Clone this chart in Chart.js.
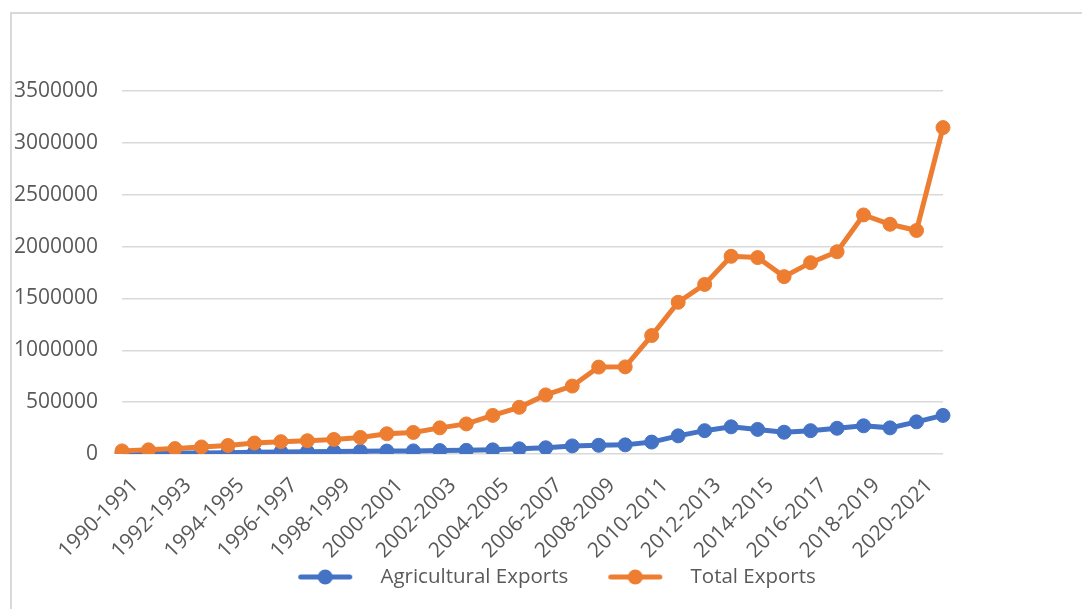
<!DOCTYPE html>
<html>
<head>
<meta charset="utf-8">
<title>Exports</title>
<script src="https://cdn.jsdelivr.net/npm/chart.js@4.4.0/dist/chart.umd.min.js"></script>
<style>
  html, body { margin: 0; padding: 0; background: #fff; overflow: hidden; }
  #frame {
    position: absolute; left: 10px; top: 12px;
    width: 1093px; height: 620px;
    border-left: 2px solid #d9d9d9; border-top: 2px solid #d9d9d9;
  }
  canvas { display: block; }
</style>
</head>
<body>
<div id="frame"><canvas id="exportsChart" width="1093" height="595"></canvas></div>
<script>
const periods = [
    '1990-1991', '1991-1992', '1992-1993', '1993-1994', '1994-1995', '1995-1996',
    '1996-1997', '1997-1998', '1998-1999', '1999-2000', '2000-2001', '2001-2002',
    '2002-2003', '2003-2004', '2004-2005', '2005-2006', '2006-2007', '2007-2008',
    '2008-2009', '2009-2010', '2010-2011', '2011-2012', '2012-2013', '2013-2014',
    '2014-2015', '2015-2016', '2016-2017', '2017-2018', '2018-2019', '2019-2020',
    '2020-2021', '2021-2022'
];

const agriculturalExports = [
    6000, 8000, 9000, 10000, 12000, 17000, 20000, 22000, 24000, 26000,
    28000, 30000, 33000, 35000, 40000, 50000, 60000, 78000, 84000, 88000,
    115000, 175000, 225000, 262000, 237000, 210000, 225000, 248000, 272000, 252000,
    310000, 372000
];

const totalExports = [
    30000, 40000, 52000, 68000, 82000, 106000, 119000, 128000, 140000, 160000,
    195000, 208000, 252000, 290000, 372000, 450000, 570000, 655000, 838000, 840000,
    1142000, 1463000, 1635000, 1906000, 1894000, 1710000, 1845000, 1950000, 2305000, 2215000,
    2155000, 3147000
];

const valueTicks = [0, 500000, 1000000, 1500000, 2000000, 2500000, 3000000, 3500000];

const textColor = '#595959';
const gridColor = '#d9d9d9';
const fontFamily = '"Open Sans", sans-serif';

// legend swatch: short line with the marker in the middle; the transparent
// margins give the spacing between and around the legend entries
function legendSwatch(color) {
    let c = document.createElement('canvas');
    c.width = 110;
    c.height = 18;
    let g = c.getContext('2d');
    g.strokeStyle = color;
    g.lineWidth = 5;
    g.lineCap = 'round';
    g.beginPath();
    g.moveTo(40.5, 9);
    g.lineTo(89.5, 9);
    g.stroke();
    g.fillStyle = color;
    g.beginPath();
    g.arc(65, 9, 7.5, 0, Math.PI * 2);
    g.fill();
    return c;
}

let ctx = document.getElementById('exportsChart').getContext('2d');
let exportsChart = new Chart(ctx, {
    type: 'line',
    data: {
        labels: periods,
        datasets: [{
            label: 'Agricultural Exports',
            data: agriculturalExports,
            borderColor: '#4472C4',
            backgroundColor: '#4472C4',
            borderWidth: 5,
            pointRadius: 7,
            pointBorderWidth: 1,
            order: 1
        }, {
            label: 'Total Exports',
            data: totalExports,
            borderColor: '#ED7D31',
            backgroundColor: '#ED7D31',
            borderWidth: 5,
            pointRadius: 7,
            pointBorderWidth: 1,
            order: 0
        }]
    },
    options: {
        responsive: false,
        animation: false,
        layout: {
            padding: { top: 77, left: 0, right: 41, bottom: 11.75 }
        },
        plugins: {
            tooltip: { enabled: false },
            legend: {
                position: 'bottom',
                labels: {
                    usePointStyle: true,
                    pointStyleWidth: 110,
                    padding: 2,
                    color: textColor,
                    font: { family: fontFamily, size: 20.5 },
                    generateLabels(chart) {
                        let items = Chart.defaults.plugins.legend.labels.generateLabels(chart);
                        items.sort((a, b) => a.datasetIndex - b.datasetIndex);
                        items.forEach(item => {
                            item.pointStyle = legendSwatch(chart.data.datasets[item.datasetIndex].borderColor);
                        });
                        return items;
                    }
                }
            }
        },
        scales: {
            x: {
                grid: { display: false, drawTicks: false },
                border: { display: false },
                ticks: {
                    autoSkip: false,
                    minRotation: 45,
                    maxRotation: 45,
                    padding: 19,
                    labelOffset: 13,
                    color: textColor,
                    font: { family: fontFamily, size: 21 },
                    callback: (value, i) => i % 2 === 0 ? periods[i] : ''
                },
                afterFit(scale) { scale.height = 110.75; }
            },
            y: {
                min: 0,
                max: 3500000,
                grid: { color: gridColor, lineWidth: 1.5, drawTicks: false },
                border: { display: false },
                ticks: {
                    padding: 24,
                    color: textColor,
                    font: { family: fontFamily, size: 21 },
                    callback: value => String(value)
                },
                afterBuildTicks(scale) {
                    scale.ticks = valueTicks.map(v => ({ value: v }));
                },
                afterFit(scale) { scale.width = 110; }
            },
            spacer: {
                position: 'right',
                grid: { display: false },
                border: { display: false },
                ticks: { display: false },
                afterFit(scale) { scale.width = 121; }
            }
        }
    }
});
</script>
</body>
</html>
